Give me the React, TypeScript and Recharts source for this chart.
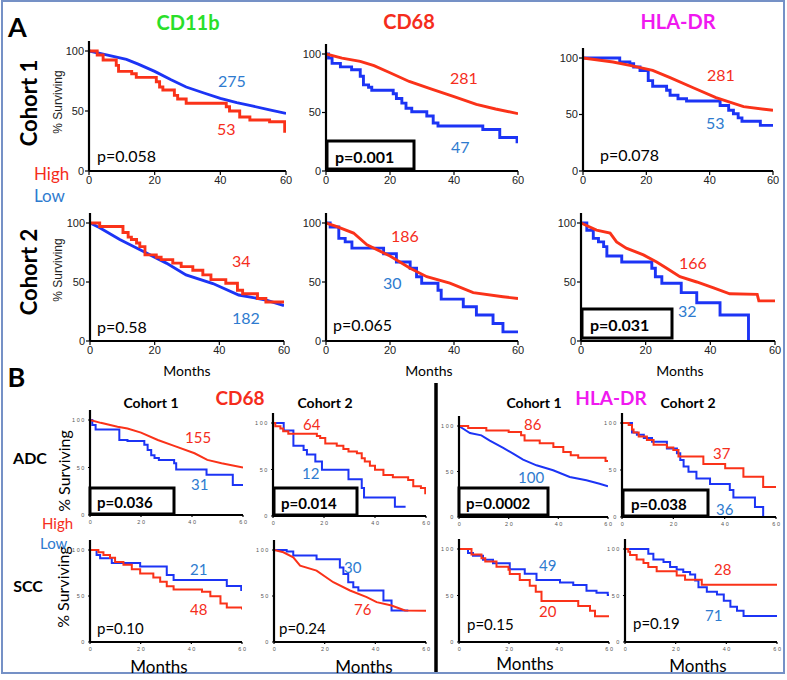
import React from 'react';
import { LineChart, Line, XAxis, YAxis } from 'recharts';

type P = [number, number];
type Kind = 'linear' | 'stepAfter';

// ---------- tick labels ----------
const xTicks = [0, 20, 40, 60];
const yTicks = [0, 50, 100];

// ---------- Panel A, Cohort 1 ----------
const a1High: P[] = [[0,100],[2.5,96.7],[4.3,92.5],[8.3,88],[9,83],[13,81],[14.4,78],[20.5,74.4],[21.5,70],[22.5,67.5],[26,63],[27,60],[29.6,56.4],[41.8,53.6],[42.8,50],[45.9,45],[49,42.5],[55,41],[59.6,33],[60,33]];
const a1Low: P[] = [[0,100],[5,97],[11.4,93],[15,89],[20,83],[25,76],[29.6,70],[35,65],[40,60.5],[45,57],[50,54],[55,51],[60,48]];
const a2High: P[] = [[0,100],[5,96.5],[10.7,93.7],[15,90],[20,84],[26,76.5],[33,70],[40,63.6],[47,57],[53,53],[60,49]];
const a2Low: P[] = [[0,100],[0.8,96.6],[1.9,92],[4.5,89],[8,86.5],[10.7,81],[11.7,73.6],[13.3,71.6],[14.3,69],[21,66],[22,62],[23.7,58],[25,53.6],[26.8,50.7],[31.5,47],[33.5,41],[35,38.4],[49,35.5],[54.3,28.6],[59.7,25],[60,25]];
const a3High: P[] = [[0,100],[9.5,96.5],[14.8,93.5],[22,89],[27.5,82.6],[34.8,73.7],[42,65],[50.7,57],[60,53.7]];
const a3Low: P[] = [[0,100],[11.6,96.5],[14.8,95],[16,92],[18,89],[20.6,80],[22,75],[26.4,71.4],[27.5,67],[30,64],[32.7,62],[43.3,58],[46,53.7],[47.5,50.7],[49,47],[50.2,44],[56,40.4],[60,40.4]];

// ---------- Panel A, Cohort 2 ----------
const a4High: P[] = [[0,100],[3,97],[10.2,92],[11.8,88],[12.8,86],[14.4,83],[15.4,80],[17,73],[20.5,71],[22,69],[25.6,66],[28.2,63],[31.8,60],[34.9,56],[37.4,52],[42,49],[45.6,43],[47.2,40],[51.8,36],[54.4,33],[60,33]];
const a4Low: P[] = [[0,100],[3,96],[9.2,86],[16.4,76],[23.6,66],[29.7,56],[38,48.7],[46,39],[54,35],[60,30]];
const a5High: P[] = [[0,100],[3.4,97],[8.6,91.5],[12.8,81.5],[20,72],[26.3,61.6],[31.5,54.5],[38.7,49],[46,41],[55.3,37.5],[60,36]];
const a5Low: P[] = [[0,100],[1.3,96.6],[4,87],[6,84],[8.1,78.7],[18,74],[22,67],[26.3,61.6],[28.3,54.5],[29.9,49],[35,43],[36,35.5],[42.9,29],[47,22],[52.2,14.8],[55.3,7.7],[60,7.7]];
const a6High: P[] = [[0,100],[4.8,94],[9,91.5],[11,84],[14,78.7],[19.3,73],[23.4,67],[26.5,61.6],[30.6,54.5],[35.8,50],[41,45],[46,40],[54.5,39.5],[55,34],[60,34]];
const a6Low: P[] = [[0,100],[1.8,93.8],[3.8,87],[5.4,84],[7,80],[8,72],[12.6,67],[21.9,61.6],[23,54.5],[25,49],[31,41],[35.8,32.4],[43,22],[51.8,0]];

// ---------- Panel B, ADC ----------
const b1High: P[] = [[0,100],[4.2,97],[10.8,93],[14.7,91],[20,86.7],[26.6,79],[33,72.7],[41,65],[46,58],[51.6,54.5],[60,50]];
const b1Low: P[] = [[0,100],[0.9,94.8],[2.2,90],[11.5,79],[14.7,78],[21.3,74],[22.6,68.5],[24,63],[25.3,60],[27,58],[33,54.5],[33.8,48],[45.7,42.3],[56,31.6],[60,31.6]];
const b2High: P[] = [[0,100],[0.9,96.4],[2.9,94],[4,91],[6,88.5],[17.2,86],[18.5,84],[20.5,78],[25,75.5],[27.6,72],[29.6,69.4],[32.9,67.6],[34.8,62],[36,58.6],[38,54],[40,49.6],[43.3,44],[47,41.7],[53,38.8],[55,32],[58,30],[59.7,24.5],[60,24.5]];
const b2Low: P[] = [[0,100],[4.2,92],[8,75.5],[12,71],[13.3,66],[16.6,58.6],[19.2,49.6],[29.6,39.5],[34.8,30],[35.7,20],[47.8,10],[52,10]];
const b3High: P[] = [[0,100],[3.7,97.8],[11,95],[20,93.4],[25,89.7],[26.4,84],[32.5,81],[38,77],[42,71.4],[45,67.8],[48,65],[59,61.5],[60,61.5]];
const b3Low: P[] = [[0,100],[1.7,97],[4.4,92.3],[9,89.7],[12.4,84],[17.8,76],[21.8,69.6],[25.8,63],[31.2,56.8],[37.9,51.3],[44.6,44],[51.3,40.3],[56.6,36.6],[60,33.7]];
const b4High: P[] = [[0,100],[2.6,98],[3.9,93],[4.5,90],[6.5,85.7],[9.7,82],[12.3,76.8],[17.5,74],[20,71.4],[22,64.3],[31.7,56.4],[40.2,51.8],[47.3,42.9],[55,32],[60,32]];
const b4Low: P[] = [[0,100],[3.9,90],[5.8,87.5],[8.5,84],[11.7,80],[17.5,73],[21.4,67.9],[22.7,60.7],[24,53.6],[25.9,48.2],[29,41],[34.3,35],[42,28.6],[43.4,20.7],[51.8,10.7],[55,0]];

// ---------- Panel B, SCC ----------
const b5High: P[] = [[0,100],[3.3,97.5],[5.3,94.5],[7.9,91.6],[9.9,87],[13.2,84],[16.5,79],[19.8,74.5],[25,70],[27.7,65.5],[30.3,60.7],[33,57],[44.2,54.5],[47.5,49.8],[51.5,41.8],[54,37.5],[60,35.3]];
const b5Low: P[] = [[0,100],[2.6,94.5],[4,91],[8.6,86],[19.8,82],[30.3,72.7],[33,67.3],[54,61],[59.7,56.4],[60,56.4]];
const b6High: P[] = [[0,100],[3.7,97.5],[7.6,92],[10.3,83],[16.8,77.6],[23.4,65],[30,56],[36.6,48.7],[40.5,43.3],[46.4,39.7],[51.7,34.3],[60,34]];
const b6Low: P[] = [[0,100],[5,98.5],[7.6,94],[16.8,90],[26,81],[27.4,74],[29.3,65],[31.3,59.6],[33.3,56],[43.2,45],[46.4,34.3],[53,34.3]];
const b7High: P[] = [[0,100],[5,94],[9,90],[10.5,86.6],[15,81],[19.8,77.6],[20.3,73],[24.3,66.8],[28.3,60.6],[30.7,54],[33,44],[47.7,38.6],[52.4,33.6],[54.4,27.8],[60,27.8]];
const b7Low: P[] = [[0,100],[3.6,95.7],[5.6,92.8],[9.6,88.4],[13.6,84.8],[20.3,78.3],[26.3,73.3],[31,66.8],[40.4,63.9],[45.7,61.4],[51,55],[55,53],[59.5,50.5],[60,50.5]];
const b8High: P[] = [[0,100],[1.3,97],[2,93.5],[4.6,88.7],[7.3,85],[9.2,80.7],[12.5,76],[20.4,71.6],[23.7,67],[30.3,61.5],[60,61.5]];
const b8Low: P[] = [[0,100],[9.2,95],[11.2,88.7],[15.2,86],[17.8,80.7],[20.4,78],[23,75.3],[25.7,72.7],[27.7,66],[29,59],[32.3,54],[36.3,51],[39,44.4],[41.6,38],[44.2,33.5],[46.8,28],[60,28]];

const RED = '#fa3219';
const BLUE = '#1c34f5';
const RED_T = '#f52d1c';
const BLUE_T = '#2e7bcf';
const GREEN = '#2adf2a';
const MAGENTA = '#f019f0';
const LATO = 'Lato, "Open Sans", sans-serif';
const ARIAL = '"Liberation Sans", Arial, sans-serif';

const toPts = (a: P[]) => a.map(([t, s]) => ({ t, s }));

const YTickB = (props: any) => {
  const { x, y, payload } = props;
  return (
    <text x={x} y={y} textAnchor="end" dominantBaseline="central" fontSize={5.5} letterSpacing={1.6} fill="#555" fontFamily={ARIAL}>
      {String(payload.value)}
    </text>
  );
};
const XTickB = (props: any) => {
  const { x, y, payload } = props;
  return (
    <text x={x + 1} y={y + 3} textAnchor="middle" dominantBaseline="central" fontSize={5.5} letterSpacing={1.6} fill="#555" fontFamily={ARIAL}>
      {String(payload.value)}
    </text>
  );
};

type KMProps = {
  x0: number; x60: number; y0: number; y100: number;
  high: P[]; low: P[]; highType: Kind; lowType: Kind; small?: boolean;
};

function KM({ x0, x60, y0, y100, high, low, highType, lowType, small }: KMProps) {
  const extra = 10;
  const pxPer = (y0 - y100) / 100;
  const plotH = y0 - y100 + extra;
  const ymax = plotH / pxPer;
  const yW = 40;
  const mTop = 4;
  const mRight = 10;
  const xH = 24;
  const plotW = x60 - x0;
  const W = yW + plotW + mRight;
  const H = mTop + plotH + xH;
  const sw = small ? 2 : 2.9;
  const axisStyle = { stroke: '#000', strokeWidth: 2.2 };
  return (
    <div style={{ position: 'absolute', left: x0 - yW, top: y0 - plotH - mTop }}>
      <LineChart width={W} height={H} margin={{ top: mTop, right: mRight, left: 0, bottom: 0 }}>
        <XAxis
          type="number" dataKey="t" domain={[0, 60]} ticks={xTicks} height={xH}
          allowDataOverflow interval={0}
          axisLine={axisStyle} tickLine={{ stroke: '#000', strokeWidth: 1.2 }}
          tickSize={small ? 2 : 4} tickMargin={small ? 2 : 1}
          tick={small ? <XTickB /> : { fontSize: 11, fill: '#222', fontFamily: ARIAL }}
        />
        <YAxis
          type="number" domain={[0, ymax]} ticks={yTicks} width={yW}
          allowDataOverflow interval={0}
          axisLine={axisStyle} tickLine={{ stroke: '#000', strokeWidth: 1.2 }}
          tickSize={small ? 2 : 4} tickMargin={small ? 2 : 1}
          tick={small ? <YTickB /> : { fontSize: 11, fill: '#222', fontFamily: ARIAL }}
        />
        <Line data={toPts(low)} dataKey="s" type={lowType} stroke={BLUE} strokeWidth={sw} dot={false} isAnimationActive={false} />
        <Line data={toPts(high)} dataKey="s" type={highType} stroke={RED} strokeWidth={sw} dot={false} isAnimationActive={false} />
      </LineChart>
    </div>
  );
}

type TProps = {
  x: number; y: number; children: React.ReactNode; size?: number; color?: string;
  bold?: boolean; anchor?: 'start' | 'middle' | 'end'; font?: string; rotate?: boolean;
};
const T = ({ x, y, children, size = 16, color = '#000', bold = false, anchor = 'start', font = LATO, rotate = false }: TProps) => (
  <text
    x={x} y={y} fontSize={size} fill={color} fontWeight={bold ? 700 : 400}
    textAnchor={anchor} dominantBaseline="central" fontFamily={font}
    transform={rotate ? `rotate(-90 ${x} ${y})` : undefined}
  >
    {children}
  </text>
);

const PBox = ({ x1, y1, x2, y2, tx, label, size = 16 }: { x1: number; y1: number; x2: number; y2: number; tx: number; label: string; size?: number }) => (
  <g>
    <rect x={x1} y={y1} width={x2 - x1} height={y2 - y1} fill="#fff" stroke="#000" strokeWidth={3} />
    <T x={tx} y={(y1 + y2) / 2 + 1} size={size} bold>{label}</T>
  </g>
);

export default function App() {
  return (
    <div style={{ position: 'absolute', left: 0, top: 0, width: 787, height: 680, background: '#fff', overflow: 'hidden', fontFamily: LATO }}>
      {/* Panel A */}
      <KM x0={89} x60={286} y0={171} y100={51} high={a1High} low={a1Low} highType="stepAfter" lowType="linear" />
      <KM x0={326} x60={518} y0={171} y100={54} high={a2High} low={a2Low} highType="linear" lowType="stepAfter" />
      <KM x0={583} x60={773} y0={171} y100={58} high={a3High} low={a3Low} highType="linear" lowType="stepAfter" />
      <KM x0={90} x60={284} y0={341} y100={223} high={a4High} low={a4Low} highType="stepAfter" lowType="linear" />
      <KM x0={326} x60={518} y0={341} y100={223} high={a5High} low={a5Low} highType="linear" lowType="stepAfter" />
      <KM x0={581} x60={775} y0={341} y100={223} high={a6High} low={a6Low} highType="linear" lowType="stepAfter" />
      {/* Panel B */}
      <KM small x0={90} x60={243} y0={515} y100={420} high={b1High} low={b1Low} highType="linear" lowType="stepAfter" />
      <KM small x0={273} x60={426} y0={516} y100={423} high={b2High} low={b2Low} highType="stepAfter" lowType="stepAfter" />
      <KM small x0={459} x60={608} y0={517} y100={426} high={b3High} low={b3Low} highType="stepAfter" lowType="linear" />
      <KM small x0={622} x60={776} y0={517} y100={423} high={b4High} low={b4Low} highType="stepAfter" lowType="stepAfter" />
      <KM small x0={90} x60={242} y0={642} y100={550} high={b5High} low={b5Low} highType="stepAfter" lowType="stepAfter" />
      <KM small x0={274} x60={426} y0={642} y100={550} high={b6High} low={b6Low} highType="linear" lowType="stepAfter" />
      <KM small x0={459} x60={609} y0={642} y100={549} high={b7High} low={b7Low} highType="stepAfter" lowType="stepAfter" />
      <KM small x0={625} x60={777} y0={642} y100={549} high={b8High} low={b8Low} highType="stepAfter" lowType="stepAfter" />

      <svg width={787} height={680} style={{ position: 'absolute', left: 0, top: 0, pointerEvents: 'none' }}>
        <rect x={2} y={1} width={782} height={672} fill="none" stroke="#7591c6" strokeWidth={2} />
        {/* Panel letters */}
        <T x={17.5} y={26} size={27} bold anchor="middle">A</T>
        <T x={16.5} y={376} size={27} bold anchor="middle">B</T>

        {/* Panel A titles */}
        <T x={188} y={22} size={20} bold anchor="middle" color={GREEN}>CD11b</T>
        <T x={409} y={21} size={20} bold anchor="middle" color={RED_T}>CD68</T>
        <T x={678} y={21} size={20} bold anchor="middle" color={MAGENTA}>HLA-DR</T>
        <T x={28} y={103} size={22} bold anchor="middle" rotate>Cohort 1</T>
        <T x={28} y={272} size={22} bold anchor="middle" rotate>Cohort 2</T>
        <T x={58} y={102} size={12} anchor="middle" rotate font={ARIAL} color="#222">% Surviving</T>
        <T x={58} y={270} size={12} anchor="middle" rotate font={ARIAL} color="#222">% Surviving</T>
        <T x={34} y={173} size={17} color={RED_T}>High</T>
        <T x={34} y={195} size={17} color={BLUE_T}>Low</T>

        <T x={218} y={80} color={BLUE_T}>275</T>
        <T x={217} y={128} color={RED_T}>53</T>
        <T x={450} y={77} color={RED_T}>281</T>
        <T x={451} y={146} color={BLUE_T}>47</T>
        <T x={707} y={74} color={RED_T}>281</T>
        <T x={706} y={122} color={BLUE_T}>53</T>
        <T x={232} y={260} color={RED_T}>34</T>
        <T x={232} y={317} color={BLUE_T}>182</T>
        <T x={391} y={235} color={RED_T}>186</T>
        <T x={383} y={282} color={BLUE_T}>30</T>
        <T x={679} y={262} color={RED_T}>166</T>
        <T x={678} y={310} color={BLUE_T}>32</T>

        <T x={97} y={155}>p=0.058</T>
        <PBox x1={327} y1={141} x2={414} y2={169} tx={335} label="p=0.001" />
        <T x={600} y={154}>p=0.078</T>
        <T x={97} y={326}>p=0.58</T>
        <T x={333} y={324}>p=0.065</T>
        <PBox x1={582} y1={309} x2={672} y2={338} tx={590} label="p=0.031" />

        <T x={187} y={370} size={14} anchor="middle">Months</T>
        <T x={429} y={370} size={14} anchor="middle">Months</T>
        <T x={680} y={370} size={14} anchor="middle">Months</T>

        {/* Panel B */}
        <T x={240} y={397} size={19} bold anchor="middle" color={RED_T}>CD68</T>
        <T x={611} y={397} size={19} bold anchor="middle" color={MAGENTA}>HLA-DR</T>
        <T x={151} y={402} size={14} bold anchor="middle">Cohort 1</T>
        <T x={325} y={402} size={14} bold anchor="middle">Cohort 2</T>
        <T x={534} y={402} size={14} bold anchor="middle">Cohort 1</T>
        <T x={688} y={402} size={14} bold anchor="middle">Cohort 2</T>
        <T x={30} y={457} size={16} bold anchor="middle">ADC</T>
        <T x={28} y={585} size={16} bold anchor="middle">SCC</T>
        <T x={63} y={471} size={16} anchor="middle" rotate>% Surviving</T>
        <T x={62} y={587} size={16} anchor="middle" rotate>% Surviving</T>
        <T x={42} y={523} size={15} color={RED_T}>High</T>
        <T x={40} y={543} size={15} color={BLUE_T}>Low</T>

        <T x={185} y={437} size={15} color={RED_T}>155</T>
        <T x={191} y={484} size={15} color={BLUE_T}>31</T>
        <T x={303} y={424} size={15} color={RED_T}>64</T>
        <T x={302} y={473} size={15} color={BLUE_T}>12</T>
        <T x={524} y={424} size={15} color={RED_T}>86</T>
        <T x={518} y={477} size={15} color={BLUE_T}>100</T>
        <T x={713} y={453} size={15} color={RED_T}>37</T>
        <T x={716} y={509} size={15} color={BLUE_T}>36</T>
        <T x={190} y={569} size={15} color={BLUE_T}>21</T>
        <T x={190} y={609} size={15} color={RED_T}>48</T>
        <T x={344} y={567} size={15} color={BLUE_T}>30</T>
        <T x={354} y={609} size={15} color={RED_T}>76</T>
        <T x={539} y={565} size={15} color={BLUE_T}>49</T>
        <T x={539} y={611} size={15} color={RED_T}>20</T>
        <T x={714} y={569} size={15} color={RED_T}>28</T>
        <T x={705} y={615} size={15} color={BLUE_T}>71</T>

        <PBox x1={90} y1={488} x2={174} y2={514} tx={97} label="p=0.036" size={15} />
        <PBox x1={274} y1={488} x2={357} y2={515} tx={281} label="p=0.014" size={15} />
        <PBox x1={459} y1={488} x2={548} y2={515} tx={466} label="p=0.0002" size={15} />
        <PBox x1={623} y1={490} x2={708} y2={516} tx={631} label="p=0.038" size={15} />
        <T x={97} y={628} size={15}>p=0.10</T>
        <T x={279} y={628} size={15}>p=0.24</T>
        <T x={467} y={624} size={15}>p=0.15</T>
        <T x={633} y={623} size={15}>p=0.19</T>

        <T x={159} y={666} size={17} anchor="middle">Months</T>
        <T x={364} y={666} size={17} anchor="middle">Months</T>
        <T x={525} y={663} size={17} anchor="middle">Months</T>
        <T x={698} y={665} size={17} anchor="middle">Months</T>

        <line x1={436} y1={383} x2={436} y2={672} stroke="#000" strokeWidth={3.5} />
      </svg>
    </div>
  );
}
